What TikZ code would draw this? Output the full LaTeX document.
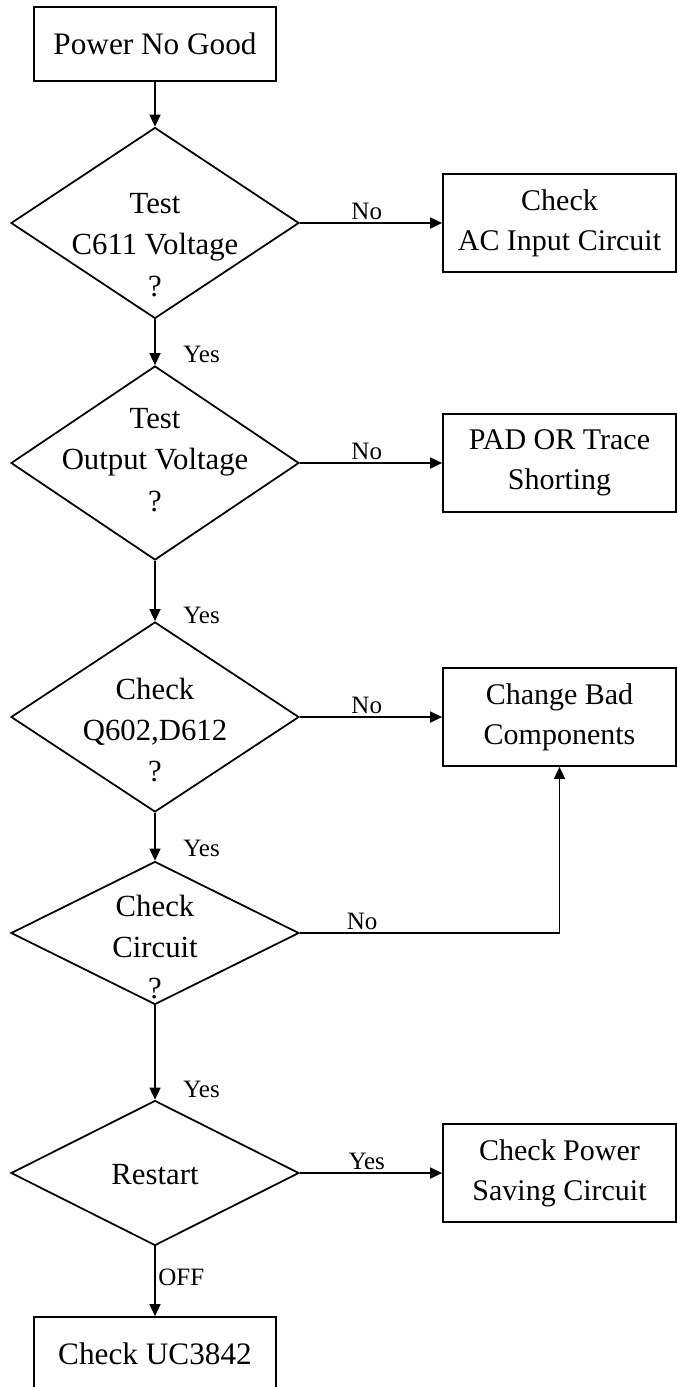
\documentclass[tikz,border=0pt]{standalone}
\usepackage{fontspec}
\setmainfont{Liberation Serif}
\usetikzlibrary{arrows.meta,shapes.geometric}

\begin{document}
\begin{tikzpicture}[x=0.4pt,y=-0.4pt,
  line width=0.7pt,
  >={Triangle[length=4.8pt,width=4.4pt]},
  stepbox/.style={draw,rectangle,inner sep=0pt,align=center,
    font=\fontsize{12.5}{16}\selectfont},
  sidebox/.style={stepbox,minimum width=93.2pt,minimum height=39.2pt,
    font=\fontsize{12}{16}\selectfont},
  decision/.style={draw,diamond,inner sep=0pt,minimum width=115.2pt},
  qtext/.style={align=center,inner sep=0pt,font=\fontsize{12.3}{16.5}\selectfont},
  answer/.style={font=\fontsize{10}{12}\selectfont,inner sep=1pt}
]

% Page
\clip (0,0) rectangle (677,1387);

% Main column
\node[stepbox,minimum width=96.8pt,minimum height=29.6pt] (start) at (155,44) {Power No Good};
\node[decision,minimum height=76.4pt,
  label={[qtext,yshift=-8.8pt]center:{Test\\C611 Voltage\\?}}] (testc) at (155,223) {};
\node[decision,minimum height=77.6pt,
  label={[qtext,yshift=1.2pt]center:{Test\\Output Voltage\\?}}] (testo) at (155,463) {};
\node[decision,minimum height=76pt,
  label={[qtext,yshift=-5.2pt]center:{Check\\Q602,D612\\?}}] (checkq) at (155,717) {};
\node[decision,minimum height=57.2pt,
  label={[qtext,yshift=-5.6pt]center:{Check\\Circuit\\?}}] (checkc) at (155,933) {};
\node[decision,minimum height=58pt,
  label={[qtext,yshift=-0.8pt]center:{Restart}}] (restart) at (155,1173) {};
\node[stepbox,minimum width=96.8pt,minimum height=29.6pt] (uc) at (155,1354) {Check UC3842};

% Side column
\node[sidebox] (acin) at (559.5,223) {Check\\AC Input Circuit};
\node[sidebox] (pad) at (559.5,463) {PAD OR Trace\\Shorting};
\node[sidebox] (bad) at (559.5,717) {Change Bad\\Components};
\node[sidebox] (saving) at (559.5,1173) {Check Power\\Saving Circuit};

% Yes path
\draw[->] (start.south) -- (testc.north);
\draw[->] (testc.south) -- node[answer,pos=0.77,anchor=west,xshift=10pt] {Yes} (testo.north);
\draw[->] (testo.south) -- node[answer,pos=0.9,anchor=west,xshift=10pt] {Yes} (checkq.north);
\draw[->] (checkq.south) -- node[answer,pos=0.75,anchor=west,xshift=10pt] {Yes} (checkc.north);
\draw[->] (checkc.south) -- node[answer,pos=0.89,anchor=west,xshift=10pt] {Yes} (restart.north);
\draw[->] (restart.south) -- node[answer,pos=0.45,anchor=west,inner sep=0pt,xshift=1pt] {OFF} (uc.north);

% No path
\draw[->] (testc.east) -- node[answer,pos=0.47,above] {No} (acin.west);
\draw[->] (testo.east) -- node[answer,pos=0.47,above] {No} (pad.west);
\draw[->] (checkq.east) -- node[answer,pos=0.47,above] {No} (bad.west);
\draw[->] (checkc.east) -| node[answer,pos=0.12,above] {No} (bad.south);
\draw[->] (restart.east) -- node[answer,pos=0.47,above] {Yes} (saving.west);

\end{tikzpicture}
\end{document}
